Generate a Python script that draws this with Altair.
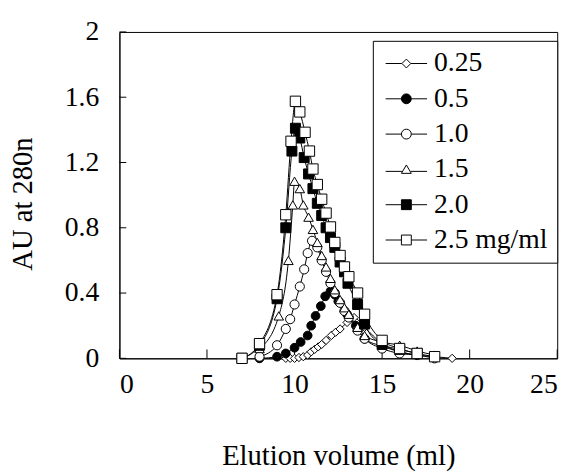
import altair as alt
import pandas as pd

series_labels = ["0.25", "0.5", "1.0", "1.5", "2.0", "2.5 mg/ml"]

x_025 = [9.5, 9.75, 10.0, 10.25, 10.5, 10.75, 10.95, 11.15, 11.35, 11.55, 11.8, 12.1, 12.35, 12.6, 13.0, 13.4, 14.0, 15.0, 16.0, 17.0, 18.0, 19.0]
y_025 = [0.0, 0.0, 0.0, 0.005, 0.01, 0.02, 0.04, 0.055, 0.07, 0.085, 0.11, 0.14, 0.16, 0.18, 0.22, 0.25, 0.19, 0.09, 0.04, 0.02, 0.01, 0.0]

x_05 = [8.0, 9.0, 9.5, 10.0, 10.35, 10.75, 10.95, 11.2, 11.5, 11.75, 12.05, 12.3, 12.5, 13.0, 13.5, 14.0, 15.0, 16.0, 17.0]
y_05 = [0.0, 0.01, 0.03, 0.065, 0.10, 0.14, 0.20, 0.26, 0.32, 0.38, 0.41, 0.39, 0.35, 0.27, 0.20, 0.12, 0.075, 0.04, 0.02]

x_10 = [8.0, 9.0, 9.5, 9.75, 10.0, 10.3, 10.55, 10.75, 11.0, 11.3, 11.55, 11.8, 12.05, 12.3, 12.6, 12.85, 13.1, 13.6, 14.0, 15.0, 16.0, 17.0, 18.0]
y_10 = [0.01, 0.08, 0.18, 0.24, 0.33, 0.44, 0.545, 0.645, 0.72, 0.68, 0.60, 0.53, 0.46, 0.40, 0.34, 0.29, 0.25, 0.17, 0.12, 0.06, 0.03, 0.02, 0.0]

x_15 = [8.0, 9.1, 9.65, 9.9, 10.0, 10.3, 10.5, 10.8, 11.05, 11.3, 11.55, 11.8, 12.05, 12.3, 12.6, 12.85, 13.1, 13.6, 14.0, 15.0, 16.0, 17.0, 18.0]
y_15 = [0.06, 0.26, 0.60, 0.94, 1.085, 1.04, 0.94, 0.865, 0.79, 0.71, 0.63, 0.56, 0.49, 0.42, 0.36, 0.31, 0.27, 0.19, 0.14, 0.10, 0.08, 0.045, 0.02]

x_20 = [7.0, 8.0, 9.0, 9.5, 9.85, 10.05, 10.3, 10.55, 10.8, 11.05, 11.3, 11.55, 11.8, 12.05, 12.3, 12.6, 12.85, 13.05, 13.6, 14.0, 15.0, 16.0, 17.0]
y_20 = [0.0, 0.08, 0.365, 0.80, 1.27, 1.41, 1.35, 1.23, 1.13, 1.04, 0.95, 0.875, 0.80, 0.74, 0.68, 0.59, 0.53, 0.46, 0.33, 0.21, 0.085, 0.055, 0.03]

x_25 = [7.0, 8.0, 9.0, 9.5, 9.8, 10.05, 10.3, 10.6, 10.85, 11.05, 11.3, 11.55, 11.8, 12.05, 12.3, 12.6, 12.85, 13.1, 13.6, 14.0, 15.0, 16.0, 17.0, 18.0]
y_25 = [0.0, 0.09, 0.39, 0.88, 1.33, 1.575, 1.51, 1.385, 1.27, 1.16, 1.065, 0.975, 0.89, 0.805, 0.71, 0.63, 0.56, 0.50, 0.40, 0.27, 0.11, 0.06, 0.03, 0.01]

x_ticks = [0, 5, 10, 15, 20, 25]
y_ticks = [0, 0.4, 0.8, 1.2, 1.6, 2]

point_shapes = ["diamond", "circle", "circle", "triangle-up", "square", "square"]
point_fills = ["white", "black", "white", "white", "black", "white"]
point_sizes = [70, 110, 115, 110, 121, 130]
legend_strokes = ["black"] * 6

legend_paths = [
    "M-1,0H0.65M1.55,0H3.2M1.1,-0.45L1.55,0L1.1,0.45L0.65,0Z",
    "M-1,0H0.6M1.6,0H3.2M0.6,0A0.5,0.5 0 1,0 1.6,0A0.5,0.5 0 1,0 0.6,0Z",
    "M-1,0H0.6M1.6,0H3.2M0.6,0A0.5,0.5 0 1,0 1.6,0A0.5,0.5 0 1,0 0.6,0Z",
    "M-1,0.2H0.65M1.55,0.2H3.2M1.1,-0.45L1.6,0.4L0.6,0.4Z",
    "M-1,0H0.6M1.6,0H3.2M0.6,-0.5H1.6V0.5H0.6Z",
    "M-1,0H0.6M1.6,0H3.2M0.6,-0.5H1.6V0.5H0.6Z",
]

rows = []
for lab, xs, ys in zip(series_labels,
                       [x_025, x_05, x_10, x_15, x_20, x_25],
                       [y_025, y_05, y_10, y_15, y_20, y_25]):
    for xv, yv in zip(xs, ys):
        rows.append({"series": lab, "vol": xv, "au": yv})
df = pd.DataFrame(rows)

FONT = "Liberation Serif"
LBL = 28
TTL = 29

x_enc = alt.X("vol:Q", scale=alt.Scale(domain=[0, 25], nice=False),
              axis=alt.Axis(values=x_ticks, title="Elution volume (ml)", grid=False,
                            ticks=False, tickSize=0, labelPadding=13, titlePadding=44,
                            labelFont=FONT, labelFontSize=LBL, titleFont=FONT, titleFontSize=TTL))
y_enc = alt.Y("au:Q", scale=alt.Scale(domain=[0, 2], nice=False),
              axis=alt.Axis(values=y_ticks, title="AU at 280n", grid=False, format="~g",
                            ticks=False, tickSize=0, labelPadding=21, titlePadding=27,
                            titleY=174,
                            labelFont=FONT, labelFontSize=LBL, titleFont=FONT, titleFontSize=TTL))

base = alt.Chart(df)

lines = base.mark_line(color="black", strokeWidth=1, interpolate="monotone").encode(
    x=x_enc, y=y_enc, detail="series:N", order="vol:Q")

points = base.mark_point(filled=True, stroke="black", strokeWidth=1, opacity=1).encode(
    x="vol:Q", y="au:Q",
    shape=alt.Shape("series:N", scale=alt.Scale(domain=series_labels, range=point_shapes), legend=None),
    fill=alt.Fill("series:N", scale=alt.Scale(domain=series_labels, range=point_fills), legend=None),
    size=alt.Size("series:N", scale=alt.Scale(domain=series_labels, range=point_sizes), legend=None),
)

leg_df = pd.DataFrame({"leg": series_labels})
legend_spec = alt.Legend(title=None, orient="none", legendX=257, legendY=9,
                         strokeColor="black", fillColor="white", padding=9,
                         labelFont=FONT, labelFontSize=LBL, labelColor="black",
                         symbolSize=400, labelOffset=25, rowPadding=7.8,
                         symbolStrokeColor="black", symbolStrokeWidth=1, labelLimit=0,
                         symbolOpacity=1)
legend_layer = alt.Chart(leg_df).mark_point(filled=True, strokeWidth=1, opacity=1).encode(
    x=alt.value(0), y=alt.value(0),
    shape=alt.Shape("leg:N", scale=alt.Scale(domain=series_labels, range=legend_paths), legend=legend_spec),
    fill=alt.Fill("leg:N", scale=alt.Scale(domain=series_labels, range=point_fills), legend=legend_spec),
    stroke=alt.Stroke("leg:N", scale=alt.Scale(domain=series_labels, range=legend_strokes), legend=legend_spec),
).transform_filter("false")

xt_df = pd.DataFrame({"xt": x_ticks})
x_tick_marks = alt.Chart(xt_df).mark_rule(color="black", strokeWidth=1).encode(
    x=alt.X("xt:Q"), y=alt.value(331), y2=alt.value(322))

yt_df = pd.DataFrame({"yt": y_ticks})
y_tick_marks = alt.Chart(yt_df).mark_rule(color="black", strokeWidth=1).encode(
    y=alt.Y("yt:Q"), x=alt.value(0), x2=alt.value(7))

chart = alt.layer(lines, x_tick_marks, y_tick_marks, points, legend_layer).resolve_scale(
    shape="independent", fill="independent", size="independent", stroke="independent"
).properties(
    width=444, height=331,
    padding={"left": 113, "top": 21, "right": 16, "bottom": 113},
    autosize="none",
).configure_view(stroke="black", strokeWidth=1).configure_axis(
    labelFont=FONT, labelFontSize=LBL, labelColor="black",
    titleFont=FONT, titleFontSize=TTL, titleFontWeight="normal", titleColor="black",
    domainColor="black", domainWidth=1,
)

chart.save("out.html", embed_options={"renderer": "svg", "actions": False})
